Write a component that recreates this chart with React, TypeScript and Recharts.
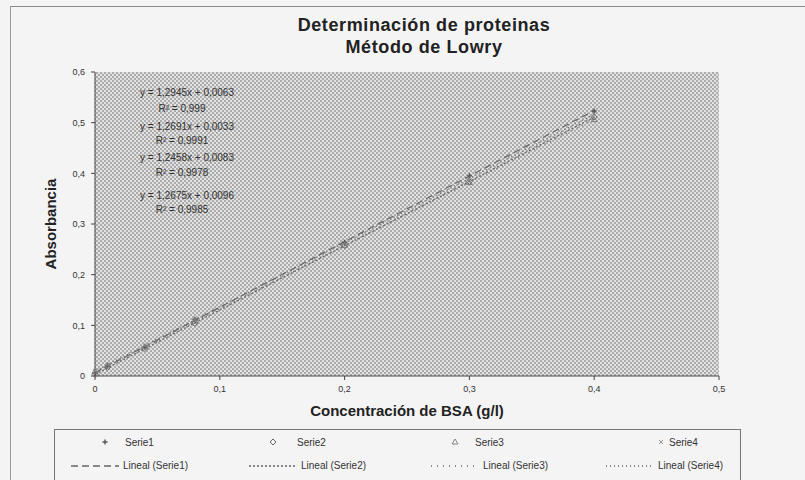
import React from 'react';
import {
  ComposedChart, Line, Scatter, XAxis, YAxis, CartesianGrid, Label
} from 'recharts';

// BSA standards (g/l) and absorbance
const concentrations = [0, 0.01, 0.04, 0.08, 0.2, 0.3, 0.4];
const serie1 = [0.005, 0.020, 0.057, 0.112, 0.264, 0.395, 0.523];
const serie2 = [0.003, 0.017, 0.054, 0.104, 0.257, 0.384, 0.511];
const serie3 = [0.009, 0.021, 0.058, 0.108, 0.258, 0.382, 0.506];
const serie4 = [0.010, 0.022, 0.060, 0.111, 0.263, 0.390, 0.517];

// trend line coefficients as printed on the chart
const slopes = [1.2945, 1.2691, 1.2458, 1.2675];
const intercepts = [0.0063, 0.0033, 0.0083, 0.0096];
const equations = ['y = 1,2945x + 0,0063', 'y = 1,2691x + 0,0033', 'y = 1,2458x + 0,0083', 'y = 1,2675x + 0,0096'];
const rSquared = ['R² = 0,999', 'R² = 0,9991', 'R² = 0,9978', 'R² = 0,9985'];
const trendRange = [0, 0.4];

const xTicks = [0, 0.1, 0.2, 0.3, 0.4, 0.5];
const yTicks = [0, 0.1, 0.2, 0.3, 0.4, 0.5, 0.6];

const seriesNames = ['Serie1', 'Serie2', 'Serie3', 'Serie4'];
const trendNames = ['Lineal (Serie1)', 'Lineal (Serie2)', 'Lineal (Serie3)', 'Lineal (Serie4)'];

const allSeries = [serie1, serie2, serie3, serie4];
const pointData = allSeries.map(s => concentrations.map((x, i) => ({ x, y: s[i] })));
const trendData = slopes.map((m, i) => trendRange.map(x => ({ x, y: m * x + intercepts[i] })));

const dashes = ['7 4', '2 2', '1 5', '1 3'];
const fmt = (v: number) => (v === 0 ? '0' : String(Math.round(v * 10) / 10).replace('.', ','));

const FONT = 'Liberation Sans, Arial, sans-serif';
const NARROW = '"Liberation Sans Narrow", "Liberation Sans", Arial, sans-serif';

const Plus = (p: any) => (
  <path d={`M${p.cx - 2.5},${p.cy}h5M${p.cx},${p.cy - 2.5}v5`} stroke="#555" strokeWidth={1.4} />
);
const Diamond = (p: any) => (
  <path d={`M${p.cx},${p.cy - 3}l3,3l-3,3l-3,-3z`} fill="none" stroke="#666" strokeWidth={1} />
);
const Triangle = (p: any) => (
  <path d={`M${p.cx},${p.cy - 3}l3,5h-6z`} fill="none" stroke="#777" strokeWidth={0.9} />
);
const Cross = (p: any) => (
  <path d={`M${p.cx - 2},${p.cy - 2}l4,4M${p.cx + 2},${p.cy - 2}l-4,4`} stroke="#888" strokeWidth={0.9} />
);
const shapes = [Plus, Diamond, Triangle, Cross];

const Legend = () => (
  <div style={{
    position: 'absolute', left: 54, top: 429, width: 685, height: 52,
    border: '1px solid #777', background: '#f4f4f4', fontFamily: NARROW, fontSize: 10, color: '#333'
  }}>
    {seriesNames.map((n, i) => {
      const S = shapes[i];
      const left = [44, 212, 394, 600][i];
      return (
        <div key={n} style={{ position: 'absolute', left, top: 6, display: 'flex', alignItems: 'center' }}>
          <svg width={14} height={12}><S cx={6} cy={6} /></svg>
          <span style={{ marginLeft: [12, 16, 12, 0][i] }}>{n}</span>
        </div>
      );
    })}
    {trendNames.map((n, i) => {
      const left = [16, 194, 376, 551][i];
      return (
        <div key={n} style={{ position: 'absolute', left, top: 30, display: 'flex', alignItems: 'center' }}>
          <svg width={48} height={10}>
            <line x1={0} y1={5} x2={48} y2={5} stroke="#666" strokeWidth={1.4} strokeDasharray={dashes[i]} />
          </svg>
          <span style={{ marginLeft: 4 }}>{n}</span>
        </div>
      );
    })}
  </div>
);

export default function App() {
  return (
    <div style={{ position: 'absolute', left: 0, top: 0, width: 805, height: 480, background: '#f4f4f4', overflow: 'hidden' }}>
      <svg width={0} height={0} style={{ position: 'absolute' }}>
        <defs>
          <pattern id="dither" width={4} height={4} patternUnits="userSpaceOnUse">
            <rect width={4} height={4} fill="#e2e2e2" />
            <rect width={2} height={2} fill="#ababab" />
            <rect x={2} y={2} width={2} height={2} fill="#ababab" />
          </pattern>
        </defs>
      </svg>
      <div style={{ position: 'absolute', left: 10, top: 6, width: 800, height: 480, borderTop: '1.5px solid #888', borderLeft: '1.5px solid #999' }} />
      <div style={{
        position: 'absolute', left: 174, top: 14, width: 500, textAlign: 'center',
        fontFamily: FONT, fontWeight: 'bold', fontSize: 18, lineHeight: '22px', letterSpacing: 0.6, color: '#222'
      }}>
        Determinación de proteinas<br />Método de Lowry
      </div>
      <ComposedChart width={805} height={480} margin={{ top: 72, right: 86, bottom: 84, left: 40 }}
        style={{ position: 'absolute', left: 0, top: 0 }}>
        <CartesianGrid fill="url(#dither)" fillOpacity={1} horizontal={false} vertical={false} />
        <XAxis type="number" dataKey="x" domain={[0, 0.5]} ticks={xTicks} tickFormatter={fmt}
          stroke="#444" tickSize={4} tickMargin={6} height={20}
          tick={{ fontSize: 9, fill: '#333', fontFamily: NARROW }}>
          <Label value="Concentración de BSA (g/l)" position="bottom" offset={9}
            style={{ fontFamily: FONT, fontWeight: 'bold', fontSize: 15, fill: '#222' }} />
        </XAxis>
        <YAxis type="number" dataKey="y" domain={[0, 0.6]} ticks={yTicks} tickFormatter={fmt}
          stroke="#444" tickSize={4} tickMargin={6} width={55}
          tick={{ fontSize: 9, fill: '#333', fontFamily: NARROW }}>
          <Label value="Absorbancia" angle={-90} position="insideLeft" offset={11}
            style={{ fontFamily: FONT, fontWeight: 'bold', fontSize: 15, fill: '#222', textAnchor: 'middle' }} />
        </YAxis>
        {trendData.map((d, i) => (
          <Line key={trendNames[i]} data={d} dataKey="y" type="linear" stroke="#666" strokeWidth={1.2}
            strokeDasharray={dashes[i]} dot={false} isAnimationActive={false} />
        ))}
        {pointData.map((d, i) => (
          <Scatter key={seriesNames[i]} data={d} shape={shapes[i]} isAnimationActive={false} />
        ))}
      </ComposedChart>
      {equations.map((e, i) => (
        <React.Fragment key={e}>
          <div style={{ position: 'absolute', left: 127, width: 120, textAlign: 'center', top: [87, 121, 152, 190][i], fontFamily: NARROW, fontSize: 10, color: '#333' }}>{e}</div>
          <div style={{ position: 'absolute', left: 122, width: 120, textAlign: 'center', top: [103, 135, 167, 204][i], fontFamily: NARROW, fontSize: 10, color: '#333' }}>{rSquared[i]}</div>
        </React.Fragment>
      ))}
      <Legend />
    </div>
  );
}
